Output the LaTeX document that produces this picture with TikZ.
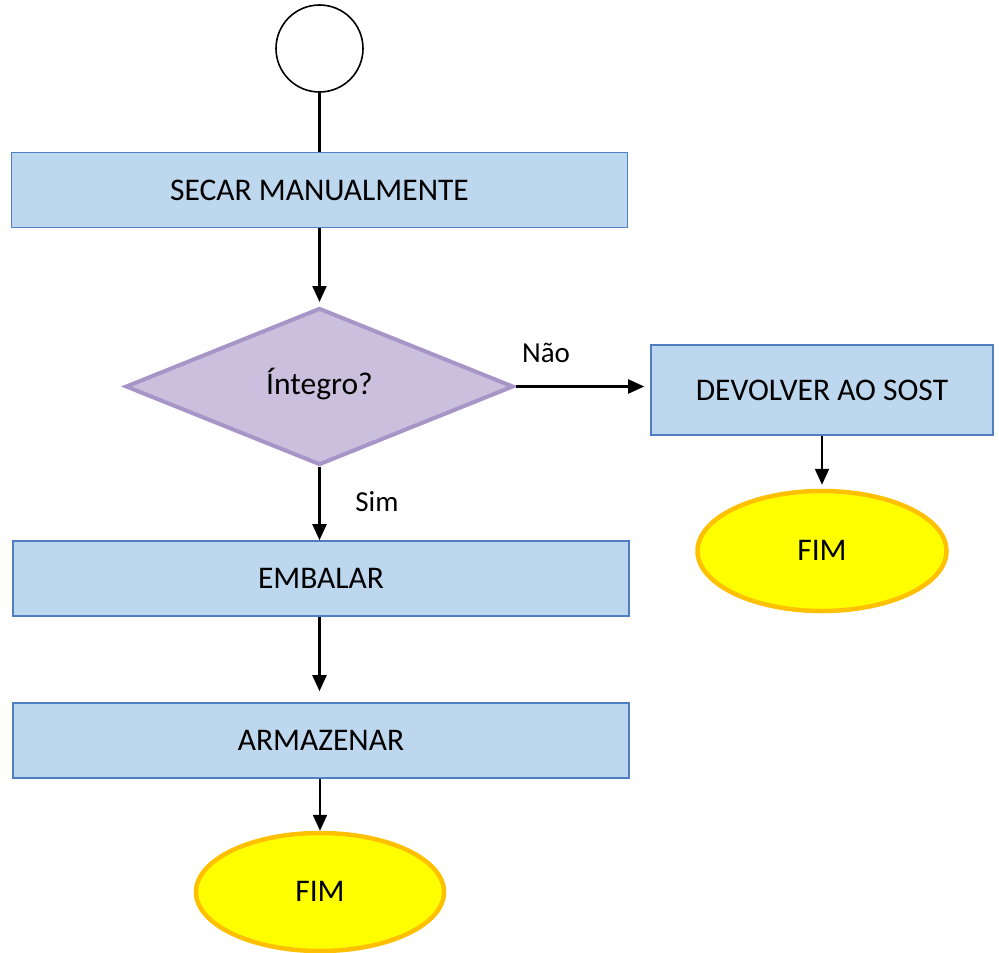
\documentclass[tikz,border=0pt]{standalone}
\usepackage{fontspec}
\setmainfont{Carlito}
\usetikzlibrary{shapes.geometric,arrows.meta}
\definecolor{boxfill}{HTML}{BDD7EE}
\definecolor{boxline}{HTML}{4F7FC0}
\definecolor{decfill}{HTML}{CABFDC}
\definecolor{decline}{HTML}{A795C8}
\definecolor{fimfill}{HTML}{FFFF00}
\definecolor{fimline}{HTML}{FFC000}
\tikzset{
  every node/.style={font=\fontsize{31.5}{36}\selectfont, inner sep=0pt},
  procbox/.style={rectangle, draw=boxline, fill=boxfill, line width=1.6pt, minimum width=616pt, minimum height=75pt},
  decbox/.style={diamond, draw=decline, fill=decfill, line width=4pt, minimum width=388pt, minimum height=157pt},
  fimbox/.style={ellipse, draw=fimline, fill=fimfill, line width=4.5pt},
  startbox/.style={circle, draw=black, line width=1.6pt, minimum size=87pt},
  conn/.style={draw=black, line width=2.2pt},
  arr/.style={conn, -{Triangle[length=16pt,width=14pt]}},
  lbl/.style={font=\fontsize{29}{33}\selectfont}
}
\begin{document}
\begin{tikzpicture}[x=1pt,y=-1pt]
\useasboundingbox (0,0) rectangle (999,953);
\node[startbox] (start) at (319.5,48.5) {};
\node[procbox] (secar) at (319.5,190) {SECAR MANUALMENTE};
\node[decbox] (dec) at (319.5,386.5) {\raisebox{10pt}{Íntegro?}};
\node[procbox, minimum width=342pt, minimum height=90pt] (devolver) at (822,390) {DEVOLVER AO SOST};
\node[fimbox, minimum width=249pt, minimum height=120pt] (fim1) at (822,551) {\raisebox{1pt}{FIM}};
\node[procbox] (embalar) at (321,578.5) {EMBALAR};
\node[procbox] (armazenar) at (321,740.5) {ARMAZENAR};
\node[fimbox, minimum width=248pt, minimum height=118pt] (fim2) at (320,892) {\raisebox{1pt}{FIM}};
\node[lbl] (nao) at (546,353) {Não};
\node[lbl] (sim) at (377,502) {Sim};
\draw[conn] (start.south) -- (secar.north);
\draw[arr, shorten >=4pt] (secar.south) -- (dec.north);
\draw[arr, shorten >=6pt] (dec.east) -- (dec.east -| devolver.west);
\draw[arr, shorten >=4pt] (devolver.south) -- (fim1.north);
\draw[arr] (dec.south) -- (dec.south |- embalar.north);
\draw[arr, shorten >=11pt] (embalar.south -| dec.south) -- (armazenar.north -| dec.south);
\draw[arr] (armazenar.south -| fim2.north) -- (fim2.north);
\end{tikzpicture}
\end{document}
